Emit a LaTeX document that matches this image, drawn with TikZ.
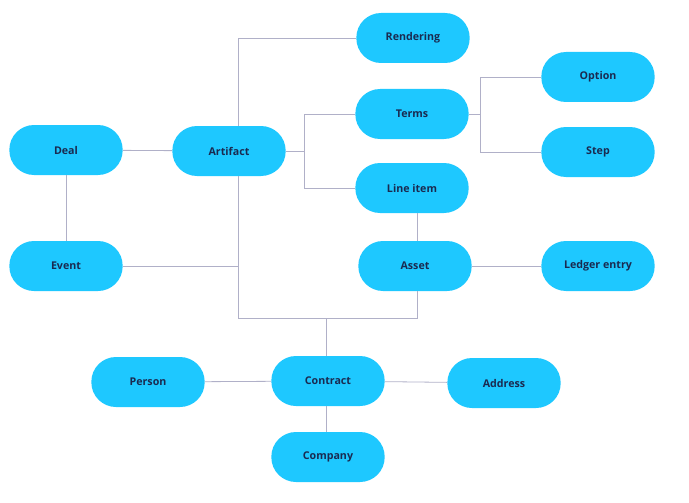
\documentclass[tikz,border=0pt]{standalone}
\usepackage{fontspec}
\setmainfont{Open Sans}
\definecolor{pill}{HTML}{1EC8FF}
\definecolor{ink}{HTML}{1A2A50}
\definecolor{wire}{HTML}{B0B0C8}
\tikzset{
  box/.style={rounded corners=18.5pt, fill=pill, minimum width=85pt, minimum height=37.5pt,
    text=ink, font=\bfseries\fontsize{8}{10}\selectfont},
  link/.style={draw=wire, line width=0.6pt}
}
\begin{document}
\begin{tikzpicture}[x=0.75pt,y=-0.75pt]
      \useasboundingbox (0,0) rectangle (689,503);

      % top branch
      \node[box] (rendering) at (413,38) {Rendering};
      \node[box] (terms) at (412,114) {Terms};
      \node[box] (lineitem) at (412,188) {Line item};
      \node[box] (option) at (598,77) {Option};
      \node[box] (step) at (598,152) {Step};

      % middle
      \node[box] (deal) at (66,150) {Deal};
      \node[box] (artifact) at (229,151) {Artifact};
      \node[box] (event) at (66,266) {Event};
      \node[box] (asset) at (415,266) {Asset};
      \node[box] (ledger) at (598,266) {Ledger entry};

      % bottom
      \node[box] (person) at (148,382) {Person};
      \node[box] (contract) at (328,381) {Contract};
      \node[box] (address) at (504,383) {Address};
      \node[box] (company) at (328,457) {Company};

      \path (238,318) coordinate (low);
      \path (326,318) coordinate (mid);
      \path (304,151) coordinate (fork);
      \path (480,114) coordinate (fork2);

      \draw[link] (deal) -- (artifact);
      \draw[link] (deal) -- (event);
      \draw[link] (238,151 |- artifact.north) |- (rendering);
      \draw[link] (artifact) -- (fork) |- (terms);
      \draw[link] (fork) |- (lineitem);
      \draw[link] (terms) -- (fork2) |- (option);
      \draw[link] (fork2) |- (step);
      \draw[link] (event) -- (event -| low);
      \draw[link] (238,151 |- artifact.south) -- (low) -| (asset.south -| 417,0);
      \draw[link] (lineitem.south -| 417,0) -- (asset.north -| 417,0);
      \draw[link] (asset) -- (ledger);
      \draw[link] (mid) -- (contract.north -| mid);
      \draw[link] (person) -- (contract);
      \draw[link] (contract) -- (address);
      \draw[link] (contract.south -| mid) -- (company.north -| mid);
\end{tikzpicture}
\end{document}
